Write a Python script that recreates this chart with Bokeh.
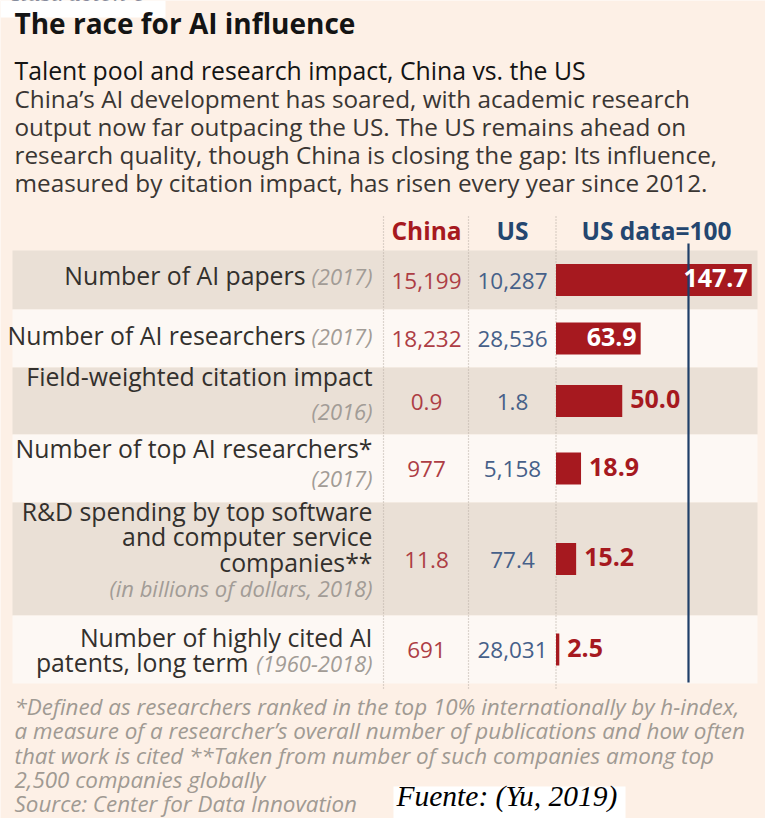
from bokeh.plotting import figure
from bokeh.models import Range1d, ColumnDataSource
from bokeh.core.properties import value
from bokeh.embed import file_html
from bokeh.resources import INLINE

# ---------------- data ----------------
measure_lines = [
    ["Number of AI papers"],
    ["Number of AI researchers"],
    ["Field-weighted citation impact"],
    ["Number of top AI researchers*"],
    ["R&D spending by top software", "and computer service", "companies**"],
    ["Number of highly cited AI", "patents, long term"],
]
periods = ["(2017)", "(2017)", "(2016)", "(2017)", "(in billions of dollars, 2018)", "(1960-2018)"]
china = [15199, 18232, 0.9, 977, 11.8, 691]
us = [10287, 28536, 1.8, 5158, 77.4, 28031]
us_index = [147.7, 63.9, 50.0, 18.9, 15.2, 2.5]
headers = ["China", "US", "US data=100"]
us_reference = 100

caption = "Ilustración 6"
title = "The race for AI influence"
subtitle = "Talent pool and research impact, China vs. the US"
body = [
    "China\u2019s AI development has soared, with academic research",
    "output now far outpacing the US. The US remains ahead on",
    "research quality, though China is closing the gap: Its influence,",
    "measured by citation impact, has risen every year since 2012.",
]
notes = [
    "*Defined as researchers ranked in the top 10% internationally by h-index,",
    "a measure of a researcher\u2019s overall number of publications and how often",
    "that work is cited  **Taken from number of such companies among top",
    "2,500 companies globally",
    "Source: Center for Data Innovation",
]
credit = "Fuente: (Yu, 2019)"

# ---------------- layout / style ----------------
FONT = value("Open Sans")
SERIF = value("Liberation Serif")
BG = "#FDF0E6"
DARK_BAND = "#EAE0D6"
LIGHT_BAND = "#FDF8F4"
RED = "#A6191F"
CHINA_TXT = "#AD3D44"
US_TXT = "#466089"
BLUE = "#1F3F68"
HEAD_BLUE = "#24466F"
INK = "#33302D"
GREY = "#A29C96"
NOTE = "#A09A93"

W, H = 765, 818
K = 0.43  # shift from the wanted baseline to the glyph anchor, per px of font size

def base(y, size):
    return y - K * size

row_top = [250, 309, 367, 434, 502, 615]
row_bot = [309, 367, 434, 502, 615, 683]
label_right = 372
china_x = 426
us_x = 512
label_base = [[285], [345], [386], [458], [521, 546, 572], [647, 672]]
period_base = [285, 345, 420, 487, 597, 672]
period_offset = [67, 67, 0, 0, 0, 124]

S_TITLE, S_SUB, S_BODY = 28, 24.8, 24.3
S_LABEL, S_PER, S_NUM, S_HEAD, S_VAL, S_NOTE = 24.8, 22, 22.5, 24.5, 25, 22.4

p = figure(width=W, height=H, output_backend="svg", toolbar_location=None,
           x_range=Range1d(0, W), y_range=Range1d(H, 0),
           min_border=0, outline_line_color=None,
           background_fill_color=BG, border_fill_color=BG)
p.axis.visible = False
p.grid.visible = False

# value range for the bars: 0 at the column edge, 100 at the reference line
v0_px, v100_px = 555.5, 688.0
span = W * 100 / (v100_px - v0_px)
vs = -v0_px / W * span
p.extra_x_ranges = {"val": Range1d(vs, vs + span)}

# white caption box top-left (caption cut off at the top edge)
p.quad(left=[0], right=[165], top=[0], bottom=[17], fill_color="white", line_color=None)
p.text(x=[145], y=[base(3, 26)], text=[caption], text_font=SERIF, text_font_style="italic",
       text_align="right", text_font_size="26px", text_color="#1E2B50",
       text_baseline="alphabetic")

# row bands
band_cols = [DARK_BAND if i % 2 == 0 else LIGHT_BAND for i in range(len(us_index))]
p.quad(left=12, right=757, top=row_top, bottom=row_bot, fill_color=band_cols, line_color=None)

# dotted separators
for xx in (383, 468, 555.5):
    p.segment(x0=[xx], x1=[xx], y0=[216], y1=[688], line_color="#B9AFA5",
              line_dash="1 2", line_width=1.2)

centers = [(a + b) / 2 for a, b in zip(row_top, row_bot)]

# bars
src = ColumnDataSource(dict(y=centers, v=us_index, zero=[0] * len(us_index)))
p.hbar(y="y", left="zero", right="v", height=32, source=src, x_range_name="val",
       fill_color=RED, line_color=None)

# reference line
p.segment(x0=[us_reference], x1=[us_reference], y0=[243], y1=[682], x_range_name="val",
          line_color=BLUE, line_width=2.2)

# bar value labels
inside = [v > 60 for v in us_index]
val_y = [base(c + 9, S_VAL) for c in centers]
num_y = [base(c + 10.5, S_NUM) for c in centers]
vin = dict(x=[v for v, i in zip(us_index, inside) if i],
           y=[y for y, i in zip(val_y, inside) if i],
           t=["%.1f" % v for v, i in zip(us_index, inside) if i])
vout = dict(x=[v for v, i in zip(us_index, inside) if not i],
            y=[y for y, i in zip(val_y, inside) if not i],
            t=["%.1f" % v for v, i in zip(us_index, inside) if not i])
p.text(x="x", y="y", text="t", source=ColumnDataSource(vin), x_range_name="val",
       x_offset=-4, text_align="right", text_baseline="alphabetic",
       text_font=FONT, text_font_style="bold", text_font_size=f"{S_VAL}px", text_color="white")
p.text(x="x", y="y", text="t", source=ColumnDataSource(vout), x_range_name="val",
       x_offset=8, text_align="left", text_baseline="alphabetic",
       text_font=FONT, text_font_style="bold", text_font_size=f"{S_VAL}px", text_color=RED)

def fmt(v):
    return "{:,}".format(v) if float(v).is_integer() and v >= 100 else "%.1f" % v

p.text(x=[china_x] * 6, y=num_y, text=[fmt(v) for v in china], text_align="center",
       text_baseline="alphabetic", text_font=FONT, text_font_size=f"{S_NUM}px",
       text_color=CHINA_TXT)
p.text(x=[us_x] * 6, y=num_y, text=[fmt(v) for v in us], text_align="center",
       text_baseline="alphabetic", text_font=FONT, text_font_size=f"{S_NUM}px",
       text_color=US_TXT)

# headers
p.text(x=[china_x, us_x, 656], y=[base(241, S_HEAD)] * 3, text=headers, text_align="center",
       text_baseline="alphabetic", text_font=FONT, text_font_style="bold",
       text_font_size=f"{S_HEAD}px", text_color=[RED, HEAD_BLUE, HEAD_BLUE])

# row labels
lx, ly, lt = [], [], []
for lines, bases, off in zip(measure_lines, label_base, period_offset):
    for k, (ln, b) in enumerate(zip(lines, bases)):
        last = k == len(lines) - 1
        lx.append(label_right - (off if last else 0))
        ly.append(base(b, S_LABEL))
        lt.append(ln)
p.text(x=lx, y=ly, text=lt, text_align="right", text_baseline="alphabetic",
       text_font=FONT, text_font_size=f"{S_LABEL}px", text_color=INK)
p.text(x=[label_right] * 6, y=[base(b, S_PER) for b in period_base], text=periods,
       text_align="right", text_baseline="alphabetic", text_font=FONT,
       text_font_style="italic", text_font_size=f"{S_PER}px", text_color=GREY)

# title block
p.text(x=[14], y=[base(35, S_TITLE)], text=[title], text_font=FONT, text_font_style="bold",
       text_font_size=f"{S_TITLE}px", text_color="#141414", text_baseline="alphabetic")
p.text(x=[14], y=[base(80, S_SUB)], text=[subtitle], text_font=FONT,
       text_font_size=f"{S_SUB}px", text_color="#141414", text_baseline="alphabetic")
p.text(x=[14] * 4, y=[base(b, S_BODY) for b in (108, 136, 164, 192)], text=body,
       text_font=FONT, text_font_size=f"{S_BODY}px", text_color="#3A3633",
       text_baseline="alphabetic")

# footnotes
p.text(x=[14] * 5, y=[base(b, S_NOTE) for b in (716, 740, 765, 789, 813)], text=notes,
       text_font=FONT, text_font_style="italic", text_font_size=f"{S_NOTE}px",
       text_color=NOTE, text_baseline="alphabetic")

# credit box
p.quad(left=[393], right=[625], top=[786], bottom=[H], fill_color="white", line_color=None)
p.text(x=[396], y=[base(808, 29.5)], text=[credit], text_font=SERIF,
       text_font_style="italic", text_font_size="29.5px", text_color="black",
       text_baseline="alphabetic")

open("out.html", "w").write(file_html(p, INLINE))
